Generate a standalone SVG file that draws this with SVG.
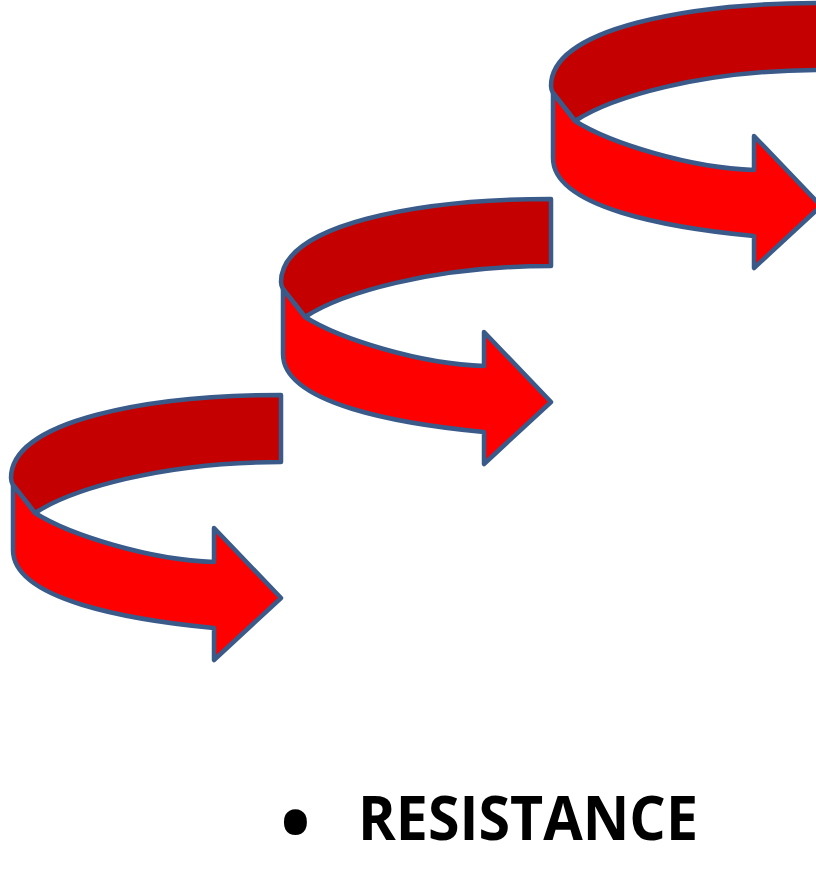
<svg xmlns="http://www.w3.org/2000/svg" width="816" height="877" viewBox="0 0 816 877">
<style>
.dark{fill:#C40000;stroke:#3A5A8A;stroke-width:4.5;stroke-linejoin:round}
.red{fill:#FF0000;stroke:#3A5A8A;stroke-width:4.5;stroke-linejoin:round}
.lbl{font-family:"Open Sans","Liberation Sans",sans-serif;font-weight:bold;fill:#000}
</style>
<defs>
<g id="curl">
<path class="dark" d="M281,395 L281,462 C160,462 70,490 35,513 L13,485 C11,481 11,479 11,478 C11,420 150,395 281,395 Z"/>
<path class="red" d="M35,513 C70,535 150,560 214,562 L214,528 L281,598 L214,660 L214,628 C130,620 13,600 13,550 L13,485 Z"/>
</g>
</defs>
<g id="arrow1"><use href="#curl"/></g>
<g id="arrow2"><use href="#curl" transform="translate(270,-196)"/></g>
<g id="arrow3"><use href="#curl" transform="translate(540,-392)"/></g>
<g id="label">
<text class="lbl" x="280" y="852" font-size="82">•</text>
<text class="lbl" x="358" y="840" font-size="60" textLength="340" lengthAdjust="spacingAndGlyphs">RESISTANCE</text>
</g>
</svg>
